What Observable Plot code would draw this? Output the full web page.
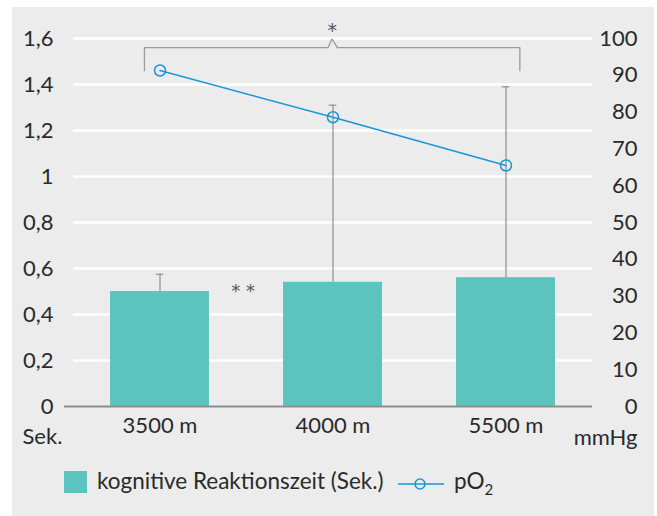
<!DOCTYPE html>
<html><head><meta charset="utf-8">
<script src="https://cdn.jsdelivr.net/npm/d3@7"></script>
<script src="https://cdn.jsdelivr.net/npm/@observablehq/plot@0.6"></script>
<style>
body{margin:0;background:#fff;font-family:Lato,sans-serif;color:#2a2a2a;}
#panel{position:absolute;left:12px;top:7px;width:642px;height:509px;background:#ebeceb;}
#chart svg{display:block;overflow:visible;}
.lg{position:absolute;font-size:22.5px;line-height:22px;white-space:nowrap;color:#2a2a2a;}
</style></head><body>
<div id="panel"><div id="chart"></div>
<div id="legend"></div>
</div>
<script>
const categories = ["3500 m", "4000 m", "5500 m"];
const reactionTime = [0.50, 0.54, 0.56];
const reactionErrorTop = [0.575, 1.31, 1.39];
const pO2 = [91.3, 78.6, 65.5];
const leftTicks = [0, 0.2, 0.4, 0.6, 0.8, 1, 1.2, 1.4, 1.6];
const rightTicks = [0, 10, 20, 30, 40, 50, 60, 70, 80, 90, 100];
const bracketX = [-0.09, -0.09, 0.97, 0.995, 1.025, 2.08, 2.08];
const bracketY = [1.46, 1.56, 1.56, 1.598, 1.56, 1.56, 1.46];
const starTop = {x: 0.995, y: 1.6, label: "*"};
const starMid = {x: 0.48, y: 0.52, label: "* *"};
const legendLabels = ["kognitive Reaktionszeit (Sek.)", "pO"];

const k = 1.6 / 100;
const barColor = "#5bc4bf", lineColor = "#1a96d6", grey = "#8e8e8e";
const data = categories.map((c, i) => ({i, c, rt: reactionTime[i], err: reactionErrorTop[i], p: pO2[i] * k}));
const bracket = bracketX.map((x, j) => ({x, y: bracketY[j]}));
const halfBar = 0.286;
const fmt = d => String(d).replace(".", ",");

const chart = Plot.plot({
  width: 642, height: 455,
  marginLeft: 61, marginRight: 62, marginTop: 31, marginBottom: 56,
  style: {background: "transparent", fontFamily: "Lato, sans-serif", fontSize: "22px", color: "#2a2a2a", overflow: "visible"},
  x: {domain: [-0.5, 2.5], axis: null},
  y: {domain: [0, 1.6], axis: null},
  marks: [
    Plot.ruleY(leftTicks.slice(1), {stroke: "#fff", strokeWidth: 2.5}),
    Plot.rectY(data, {x1: d => d.i - halfBar, x2: d => d.i + halfBar, y: "rt", fill: barColor}),
    Plot.ruleX(data, {x: "i", y1: "rt", y2: "err", stroke: grey, strokeWidth: 1.2}),
    Plot.ruleY(data, {y: "err", x1: d => d.i - 0.022, x2: d => d.i + 0.022, stroke: grey, strokeWidth: 1.2}),
    Plot.ruleY([0], {x1: -0.552, x2: 2.5, stroke: grey, strokeWidth: 2}),
    Plot.line(bracket, {x: "x", y: "y", stroke: "#9a9a9a", strokeWidth: 1.3, curve: "linear"}),
    Plot.line(data, {x: "i", y: "p", stroke: lineColor, strokeWidth: 1.5}),
    Plot.dot(data, {x: "i", y: "p", r: 5.5, stroke: lineColor, strokeWidth: 1.5, fill: "none"}),
    Plot.text([starTop], {x: "x", y: "y", text: "label", dy: -8, fontSize: 19, fontFamily: "DejaVu Sans", fill: "#555"}),
    Plot.text([starMid], {x: "x", y: "y", text: "label", dy: 4, fontSize: 18, fontFamily: "DejaVu Sans", fill: "#555"}),
    Plot.axisY(leftTicks, {anchor: "left", tickSize: 0, tickPadding: 20, tickFormat: fmt}),
    Plot.axisY(rightTicks.map(v => v * k), {anchor: "right", tickSize: 0, tickPadding: 45, textAnchor: "end", tickFormat: v => Math.round(v / k)}),
    Plot.axisX(data.map(d => d.i), {anchor: "bottom", tickSize: 0, tickPadding: 11, tickFormat: i => categories[i]}),
    Plot.text(["Sek."], {text: d => d, frameAnchor: "bottom-left", textAnchor: "start", lineAnchor: "top", dx: -51, dy: 22}),
    Plot.text(["mmHg"], {text: d => d, frameAnchor: "bottom-right", textAnchor: "end", lineAnchor: "top", dx: 45, dy: 23})
  ]
});
document.getElementById("chart").append(chart);

const lg = document.getElementById("legend");
lg.innerHTML = `
<div style="position:absolute;left:52px;top:464px;width:23px;height:22px;background:${barColor}"></div>
<div class="lg" style="left:85px;top:463px">${legendLabels[0]}</div>
<svg style="position:absolute;left:386px;top:470px" width="46" height="14"><line x1="0" x2="46" y1="7" y2="7" stroke="${lineColor}" stroke-width="1.5"/><circle cx="22" cy="7" r="5" fill="none" stroke="${lineColor}" stroke-width="1.5"/></svg>
<div class="lg" style="left:442px;top:463px">${legendLabels[1]}<sub style="font-size:15px;vertical-align:-6px;line-height:0">2</sub></div>`;
</script>
</body></html>
